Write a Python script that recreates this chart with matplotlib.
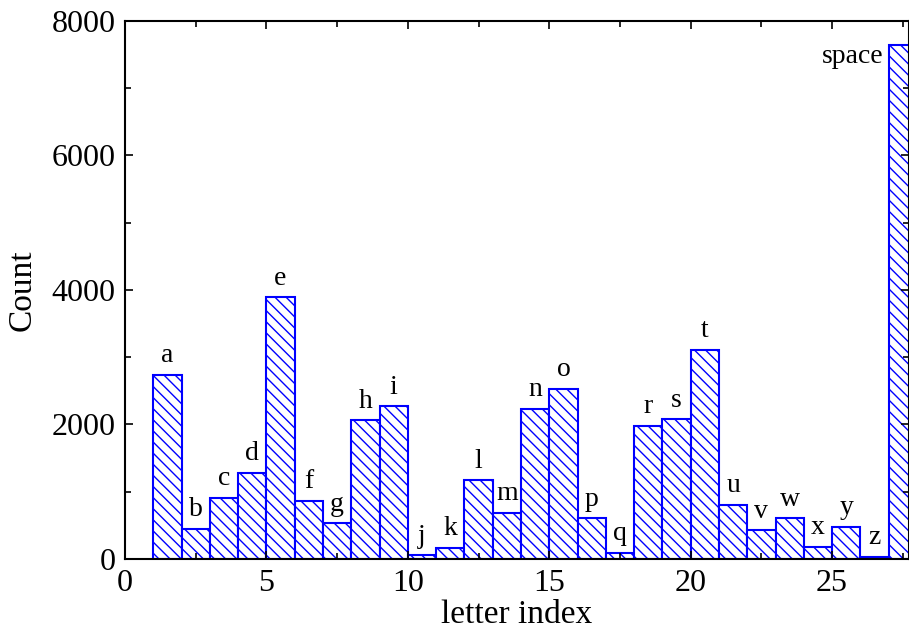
import matplotlib.pyplot as plt
from matplotlib.ticker import MultipleLocator

plt.rcParams['font.family'] = ['Liberation Serif', 'DejaVu Serif']
plt.rcParams['hatch.color'] = 'blue'
plt.rcParams['hatch.linewidth'] = 1.0

letters = list('abcdefghijklmnopqrstuvwxyz') + ['space']
index = list(range(1, 28))
counts = [2740, 450, 910, 1285, 3890, 860, 530, 2060, 2270, 55, 160, 1170,
          690, 2235, 2535, 605, 95, 1975, 2075, 3115, 805, 425, 605, 175,
          480, 35, 7645]

fig = plt.figure(figsize=(9.09, 6.3), dpi=100)
ax = fig.add_axes([0.1375, 0.1127, 0.8625, 0.854])

ax.bar(index, counts, width=1.0, align='edge', facecolor='white',
       edgecolor='blue', linewidth=1.5, hatch='\\\\\\')

for i, c, lab in zip(index, counts, letters):
    if lab == 'space':
        ax.text(i - 0.18, c - 270, lab, ha='right', va='baseline', fontsize=20)
    else:
        ax.text(i + 0.5, c + 190, lab, ha='center', va='baseline', fontsize=20)

ax.set_xlim(0, 27.72)
ax.set_ylim(0, 8000)
ax.xaxis.set_major_locator(MultipleLocator(5))
ax.xaxis.set_minor_locator(MultipleLocator(2.5))
ax.yaxis.set_major_locator(MultipleLocator(2000))
ax.yaxis.set_minor_locator(MultipleLocator(1000))
ax.tick_params(which='both', direction='in', top=True, right=True,
               labelsize=23, width=1.2)
ax.tick_params(which='major', length=6)
ax.tick_params(which='minor', length=4)
ax.tick_params(axis='x', pad=7)
ax.tick_params(axis='y', pad=7)
for s in ax.spines.values():
    s.set_linewidth(1.5)

ax.set_xlabel('letter index', fontsize=24, labelpad=1.5)
ax.set_ylabel('Count', fontsize=24, labelpad=10)

fig.savefig('out.png', dpi=100)
